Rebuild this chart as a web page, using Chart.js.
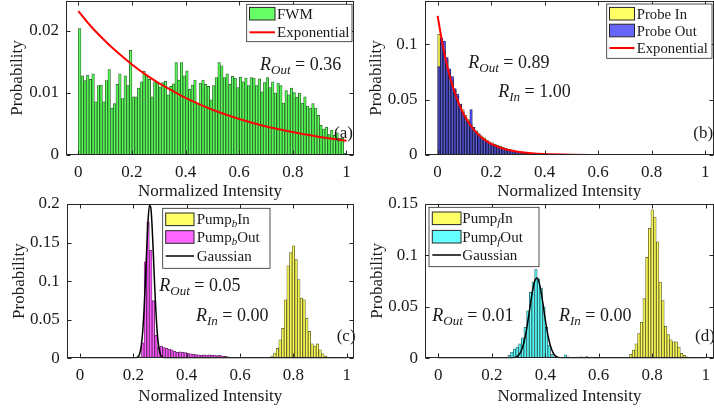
<!DOCTYPE html>
<html><head><meta charset="utf-8">
<script src="https://cdn.jsdelivr.net/npm/chart.js@4.4.1/dist/chart.umd.min.js"></script>
<style>
html,body{margin:0;padding:0;background:#fff;}
#wrap{position:relative;width:714px;height:410px;overflow:hidden;background:#fff;}
#wrap canvas{position:absolute;left:0;top:0;}
</style></head><body>
<div id="wrap">
<canvas id="ca" width="714" height="410"></canvas>
<canvas id="cb" width="714" height="410"></canvas>
<canvas id="cc" width="714" height="410"></canvas>
<canvas id="cd" width="714" height="410"></canvas>
</div>
<script>
// ---------------- DATA ----------------
const binWidth = 0.01;
const xTickVals = [0, 0.2, 0.4, 0.6, 0.8, 1];
const xTickLabels = ['0', '0.2', '0.4', '0.6', '0.8', '1'];
const yTickValsA = [0, 0.01, 0.02];       const yTickLabelsA = ['0', '0.01', '0.02'];
const yTickValsB = [0, 0.05, 0.1];        const yTickLabelsB = ['0', '0.05', '0.1'];
const yTickValsC = [0, 0.05, 0.1, 0.15, 0.2]; const yTickLabelsC = ['0', '0.05', '0.1', '0.15', '0.2'];
const yTickValsD = [0, 0.05, 0.1, 0.15];  const yTickLabelsD = ['0', '0.05', '0.1', '0.15'];

// (a) FWM histogram, bins of 0.01 starting at 0
const fwmStart = 0;
const fwmProb = [
0.0204,0.0128,0.0120,0.0129,0.0122,0.0131,0.0086,0.0112,0.0113,0.0086,
0.0120,0.0138,0.0076,0.0083,0.0114,0.0131,0.0091,0.0128,0.0112,0.0169,
0.0094,0.0094,0.0108,0.0118,0.0135,0.0128,0.0122,0.0094,0.0118,0.0116,
0.0110,0.0117,0.0119,0.0097,0.0111,0.0115,0.0149,0.0121,0.0149,0.0128,
0.0136,0.0106,0.0113,0.0121,0.0084,0.0116,0.0121,0.0114,0.0111,0.0089,
0.0112,0.0125,0.0149,0.0144,0.0125,0.0131,0.0114,0.0127,0.0124,0.0109,
0.0126,0.0118,0.0124,0.0112,0.0125,0.0124,0.0112,0.0123,0.0102,0.0117,
0.0125,0.0109,0.0118,0.0100,0.0116,0.0112,0.0084,0.0104,0.0097,0.0108,
0.0101,0.0093,0.0100,0.0084,0.0094,0.0079,0.0076,0.0083,0.0076,0.0064,
0.0048,0.0042,0.0045,0.0033,0.0040,0.0032,0.0036,0.0027,0.0028,0.0003];
const expAx = [0,0.05,0.1,0.15,0.2,0.25,0.3,0.35,0.4,0.45,0.5,0.6,0.7,0.8,0.9,1.0];
const expAy = [0.0232,0.0206,0.0184,0.0164,0.0146,0.0130,0.0116,0.0104,0.0092,0.0082,0.0073,0.0058,0.0046,0.0037,0.0029,0.0023];

// (b) Probe histograms, bins of 0.01 starting at 0
const probeStart = 0;
const probeIn = [
0.109,0.101,0.094,0.086,0.076,0.068,0.059,0.053,0.046,0.041,
0.036,0.032,0.028,0.025,0.022,0.0195,0.0175,0.0155,0.0135,0.012,
0.011,0.0098,0.0088,0.0078,0.007,0.0062,0.0055,0.0048,0.0042,0.0037,
0.0032,0.0028,0.0024,0.0021,0.0018,0.0015,0.0013,0.0011,0.0009,0.0008,
0.0006,0.0005,0.0004,0.0003,0.0002,0.0002,0.0001,0.0001];
const probeOut = [
0.080,0.106,0.103,0.088,0.078,0.071,0.060,0.055,0.046,0.039,
0.034,0.030,0.041,0.025,0.021,0.018,0.016,0.0145,0.012,0.0105,
0.0095,0.0088,0.0078,0.007,0.0064,0.0056,0.005,0.0044,0.0038,0.0034,
0.003,0.0026,0.0023,0.002,0.0017,0.0014,0.0012,0.001,0.0008,0.0007,
0.0005,0.0004,0.0003,0.0002,0.0002,0.0001];
const expBx = [0,0.02,0.04,0.06,0.08,0.1,0.12,0.14,0.16,0.18,0.2,0.25,0.3,0.35,0.4,0.5,0.6,0.8,1.0];
const expBy = [0.1256,0.0979,0.0762,0.0591,0.0459,0.0356,0.0277,0.0215,0.0167,0.0130,0.0101,0.0054,0.0029,0.0015,0.0008,0.0002,0.00007,0,0];

// (c) Pump_b histograms
const pumpBOutStart = 0.20;
const pumpBOut = [
0,0.0005,0.002,0.02,0.125,0.177,0.14,0.075,0.03,0.015,
0.016,0.014,0.013,0.012,0.011,0.009,0.008,0.0085,0.008,0.0075,
0.007,0.006,0.0055,0.005,0.0045,0.004,0.0045,0.0042,0.0045,0.004,
0.0042,0.0035,0.004,0.003,0.0025,0.002,0.0015,0.001,0.0006,0.0003];
const pumpBInStart = 0.715;
const pumpBIn = [0.003,0.007,0.013,0.024,0.039,0.076,0.120,0.137,0.146,0.128,0.102,0.078,0.076,0.052,0.035,0.019,0.016,0.019,0.011,0.006,0.003,0.0015,0.0008];
const gaussCx = [0,0.19,0.2,0.21,0.22,0.225,0.23,0.235,0.24,0.245,0.25,0.255,0.26,0.265,0.27,0.275,0.28,0.285,0.29,0.295,0.30,0.31,0.32,0.34,1];
const gaussCy = [0,0,0.00002,0.0003,0.003,0.0077,0.0174,0.035,0.063,0.1005,0.142,0.178,0.198,0.196,0.172,0.134,0.092,0.057,0.031,0.015,0.0064,0.0008,0.0001,0,0];

// (d) Pump_f histograms
const pumpFOutStart = 0.26;
const pumpFOut = [
0.003,0.006,0.009,0.011,0.014,0.020,0.030,0.046,0.064,0.074,
0.086,0.077,0.068,0.050,0.030,0.013,0.004,0.0015,0.0008,0.0005,
0.001,0.0035,0.0015,0.0008,0.0005,0.0008,0.0012,0.0015,0.001,0.0018,
0.001,0.0012,0.0005,0.0002];
const pumpFInStart = 0.715;
const pumpFIn = [0.004,0.008,0.014,0.024,0.035,0.058,0.098,0.126,0.144,0.137,0.113,0.074,0.056,0.031,0.023,0.018,0.016,0.016,0.011,0.005,0.003,0.0016,0.001,0.0005];
const gaussDx = [0,0.25,0.27,0.28,0.29,0.30,0.31,0.32,0.33,0.34,0.35,0.36,0.37,0.38,0.39,0.40,0.41,0.42,0.43,0.44,0.45,0.46,0.48,1];
const gaussDy = [0,0,0.0001,0.0003,0.0010,0.0029,0.0071,0.0151,0.0279,0.0446,0.0619,0.0745,0.0778,0.0704,0.0553,0.0376,0.0222,0.0114,0.0051,0.0019,0.0007,0.0002,0,0];

const rOutText = ['0.36', '0.89', '0.05', '0.01'];
const rInText = [null, '1.00', '0.00', '0.00'];
const panelTags = ['(a)', '(b)', '(c)', '(d)'];

// ---------------- HELPERS ----------------
const FONT = "'Liberation Serif','Times New Roman',serif";
const TXT = '#1a1a1a';
const AX = '#262626';
const EDGE = 'rgba(20,20,20,0.8)';
function hist(start, vals) { return vals.map((v, i) => ({x: start + binWidth * (i + 0.5), y: v})); }
function curve(xs, ys) { return xs.map((x, i) => ({x: x, y: ys[i]})); }

function drawPieces(ctx, x, base, pieces, size, subSize) {
  pieces.forEach(p => {
    if (p.gap) { x += p.gap; return; }
    const sz = p.sub ? subSize : size;
    ctx.font = (p.it ? 'italic ' : '') + sz + 'px ' + FONT;
    ctx.fillStyle = TXT;
    ctx.textAlign = 'left'; ctx.textBaseline = 'alphabetic';
    ctx.fillText(p.t, x, base + (p.sub ? (p.drop || 4) : 0));
    x += ctx.measureText(p.t).width;
  });
}
function rPieces(sub, val) {
  return [{t: 'R', it: true}, {t: sub, it: true, sub: true}, {gap: 4.5}, {t: '='}, {gap: 4.5}, {t: val}];
}

const decor = {
  id: 'decor',
  afterDraw(chart, args, o) {
    const ctx = chart.ctx, ca = chart.chartArea;
    const xs = chart.scales.x, ys = chart.scales.y;
    ctx.save();
    (o.notes || []).forEach(n => drawPieces(ctx, n.x, n.base, n.pieces, n.size || 18, 13));
    const L = Math.round(ca.left) + 0.5, R = Math.round(ca.right) - 0.5;
    const T = Math.round(ca.top) + 0.5, B = Math.round(ca.bottom) - 0.5;
    ctx.strokeStyle = AX; ctx.lineWidth = 1;
    ctx.strokeRect(L, T, R - L, B - T);
    ctx.beginPath();
    xTickVals.forEach(v => {
      const px = Math.round(xs.getPixelForValue(v)) + 0.5;
      ctx.moveTo(px, B); ctx.lineTo(px, B - 4);
      ctx.moveTo(px, T); ctx.lineTo(px, T + 4);
    });
    o.yTicks.forEach(v => {
      const py = Math.round(ys.getPixelForValue(v)) + 0.5;
      ctx.moveTo(L, py); ctx.lineTo(L + 4, py);
      ctx.moveTo(R, py); ctx.lineTo(R - 4, py);
    });
    ctx.stroke();
    const lg = o.legend;
    ctx.fillStyle = '#fff';
    ctx.fillRect(lg.x0, lg.y0, lg.x1 - lg.x0, lg.y1 - lg.y0);
    ctx.strokeStyle = AX; ctx.lineWidth = 0.8;
    ctx.strokeRect(lg.x0, lg.y0, lg.x1 - lg.x0, lg.y1 - lg.y0);
    lg.rows.forEach(r => {
      if (r.kind === 'rect') {
        ctx.fillStyle = r.color;
        ctx.fillRect(lg.sx0, r.y - 6.3, lg.sx1 - lg.sx0, 12.6);
        ctx.strokeStyle = AX; ctx.lineWidth = 1;
        ctx.strokeRect(lg.sx0, r.y - 6.3, lg.sx1 - lg.sx0, 12.6);
      } else {
        ctx.strokeStyle = r.color; ctx.lineWidth = r.w;
        ctx.beginPath(); ctx.moveTo(lg.sx0, r.y); ctx.lineTo(lg.sx1, r.y); ctx.stroke();
      }
      drawPieces(ctx, lg.tx, r.y + 5, r.text, lg.fs || 15, 11);
    });
    ctx.restore();
  }
};

function makeChart(id, g, datasets, yTicks, yLabels, decorOpts) {
  const lh = 17 * 1.2;
  const padLeft = g.titleX - lh / 2;
  const yW = g.left - padLeft;
  const xH = g.xTitleY + lh / 2 - g.bottom;
  const bt = binWidth * (g.right - g.left) / (g.xmax - g.xmin);
  datasets.forEach(d => { if (d.type === 'bar') d.barThickness = bt; });
  decorOpts.yTicks = yTicks;
  const hiddenX = {type: 'linear', display: false, min: g.xmin, max: g.xmax, offset: false};
  return new Chart(document.getElementById(id), {
    type: 'bar',
    data: {datasets: datasets},
    options: {
      responsive: false, animation: false, devicePixelRatio: 1,
      layout: {padding: {left: padLeft, right: 714 - g.right, top: g.top, bottom: 410 - g.xTitleY - lh / 2}},
      plugins: {legend: {display: false}, tooltip: {enabled: false}, decor: decorOpts},
      scales: {
        x: {
          type: 'linear', min: g.xmin, max: g.xmax, offset: false,
          grid: {display: false, drawTicks: false}, border: {display: false},
          ticks: {font: {family: FONT, size: 17}, color: TXT, padding: 7, autoSkip: false, maxRotation: 0,
                  callback: (v, i) => xTickLabels[i]},
          afterBuildTicks: s => { s.ticks = xTickVals.map(v => ({value: v})); },
          afterFit: s => { s.height = xH; s.paddingLeft = 0; s.paddingRight = 0; },
          title: {display: true, text: 'Normalized Intensity', font: {family: FONT, size: 17}, color: TXT, padding: 0}
        },
        x2: hiddenX,
        y: {
          type: 'linear', min: 0, max: g.ymax,
          grid: {display: false, drawTicks: false}, border: {display: false},
          ticks: {font: {family: FONT, size: 17}, color: TXT, padding: 7, autoSkip: false,
                  callback: (v, i) => yLabels[i]},
          afterBuildTicks: s => { s.ticks = yTicks.map(v => ({value: v})); },
          afterFit: s => { s.width = yW; s.paddingTop = 0; s.paddingBottom = 0; },
          title: {display: true, text: 'Probability', font: {family: FONT, size: 17}, color: TXT, padding: 0}
        }
      }
    },
    plugins: [decor]
  });
}

const GREEN = 'rgba(0,255,0,0.6)', YEL = 'rgba(255,255,0,0.6)', BLUE = 'rgba(0,0,255,0.6)';
const MAG = 'rgba(255,0,255,0.6)', CYAN = 'rgba(0,255,255,0.6)';
function barDs(label, data, color, order, axis) {
  return {type: 'bar', label, data, backgroundColor: color, borderColor: EDGE, borderWidth: 0.5,
          grouped: false, barPercentage: 1, categoryPercentage: 1, inflateAmount: 0.25, order,
          xAxisID: axis || 'x'};
}
function lineDs(label, data, color, w) {
  return {type: 'line', label, data, borderColor: color, borderWidth: w, pointRadius: 0,
          cubicInterpolationMode: 'monotone', fill: false, order: 0, xAxisID: 'x'};
}

// (a)
makeChart('ca', {left: 66, right: 354, top: 1, bottom: 155, xmin: -0.046, xmax: 1.028, ymax: 0.02484, titleX: 18, xTitleY: 192},
  [lineDs('Exponential', curve(expAx, expAy), '#ff0000', 2), barDs('FWM', hist(fwmStart, fwmProb), GREEN, 1)],
  yTickValsA, yTickLabelsA,
  {legend: {x0: 246.7, y0: 4.3, x1: 352, y1: 41.7, sx0: 249.5, sx1: 275, tx: 277,
            rows: [{kind: 'rect', color: GREEN, y: 13.7, text: [{t: 'FWM'}]},
                   {kind: 'line', color: '#ff0000', w: 2, y: 32.3, text: [{t: 'Exponential'}]}]},
   notes: [{x: 260, base: 70, pieces: rPieces('Out', rOutText[0])},
           {x: 334, base: 138, size: 17, pieces: [{t: panelTags[0]}]}]});

// (b)
makeChart('cb', {left: 424.5, right: 714, top: 1, bottom: 155, xmin: -0.049, xmax: 1.033, ymax: 0.1391, titleX: 377, xTitleY: 192},
  [lineDs('Exponential', curve(expBx, expBy), '#ff0000', 2),
   barDs('Probe Out', hist(probeStart, probeOut), BLUE, 1),
   barDs('Probe In', hist(probeStart, probeIn), YEL, 2, 'x2')],
  yTickValsB, yTickLabelsB,
  {legend: {x0: 606.7, y0: 4, x1: 712, y1: 58.3, sx0: 609.5, sx1: 634.5, tx: 636.8, fs: 14.7,
            rows: [{kind: 'rect', color: YEL, y: 13.7, text: [{t: 'Probe In'}]},
                   {kind: 'rect', color: BLUE, y: 30.5, text: [{t: 'Probe Out'}]},
                   {kind: 'line', color: '#ff0000', w: 2, y: 48, text: [{t: 'Exponential'}]}]},
   notes: [{x: 468.3, base: 68.3, pieces: rPieces('Out', rOutText[1])},
           {x: 498.3, base: 97.3, pieces: rPieces('In', rInText[1])},
           {x: 693.3, base: 138.3, size: 17, pieces: [{t: panelTags[1]}]}]});

// (c)
makeChart('cc', {left: 66.7, right: 354, top: 204, bottom: 358.3, xmin: -0.05, xmax: 1.027, ymax: 0.2, titleX: 20, xTitleY: 397},
  [lineDs('Gaussian', curve(gaussCx, gaussCy), '#000000', 1.5),
   barDs('Pump_b Out', hist(pumpBOutStart, pumpBOut), MAG, 1),
   barDs('Pump_b In', hist(pumpBInStart, pumpBIn), YEL, 2, 'x2')],
  yTickValsC, yTickLabelsC,
  {legend: {x0: 162.7, y0: 208.3, x1: 270, y1: 268.3, sx0: 165.7, sx1: 194, tx: 196.7,
            rows: [{kind: 'rect', color: YEL, y: 219.3, text: [{t: 'Pump'}, {t: 'b', it: true, sub: true, drop: 3}, {t: 'In'}]},
                   {kind: 'rect', color: MAG, y: 237, text: [{t: 'Pump'}, {t: 'b', it: true, sub: true, drop: 3}, {t: 'Out'}]},
                   {kind: 'line', color: '#000000', w: 1.5, y: 256, text: [{t: 'Gaussian'}]}]},
   notes: [{x: 159.3, base: 290.7, pieces: rPieces('Out', rOutText[2])},
           {x: 196, base: 320.7, pieces: rPieces('In', rInText[2])},
           {x: 336.7, base: 341, size: 17, pieces: [{t: panelTags[2]}]}]});

// (d)
makeChart('cd', {left: 425, right: 714, top: 203.5, bottom: 358.3, xmin: -0.0497, xmax: 1.031, ymax: 0.15, titleX: 378, xTitleY: 397},
  [lineDs('Gaussian', curve(gaussDx, gaussDy), '#000000', 1.5),
   barDs('Pump_f Out', hist(pumpFOutStart, pumpFOut), CYAN, 1),
   barDs('Pump_f In', hist(pumpFInStart, pumpFIn), YEL, 2, 'x2')],
  yTickValsD, yTickLabelsD,
  {legend: {x0: 429, y0: 207.3, x1: 539, y1: 266.7, sx0: 432.3, sx1: 461, tx: 462.3,
            rows: [{kind: 'rect', color: YEL, y: 218.3, text: [{t: 'Pump'}, {t: 'f', it: true, sub: true, drop: 3}, {t: 'In'}]},
                   {kind: 'rect', color: CYAN, y: 236.7, text: [{t: 'Pump'}, {t: 'f', it: true, sub: true, drop: 3}, {t: 'Out'}]},
                   {kind: 'line', color: '#000000', w: 1.5, y: 255, text: [{t: 'Gaussian'}]}]},
   notes: [{x: 432.3, base: 320.7, pieces: rPieces('Out', rOutText[3])},
           {x: 559, base: 320.7, pieces: rPieces('In', rInText[3])},
           {x: 695, base: 341, size: 17, pieces: [{t: panelTags[3]}]}]});
</script>
</body></html>
